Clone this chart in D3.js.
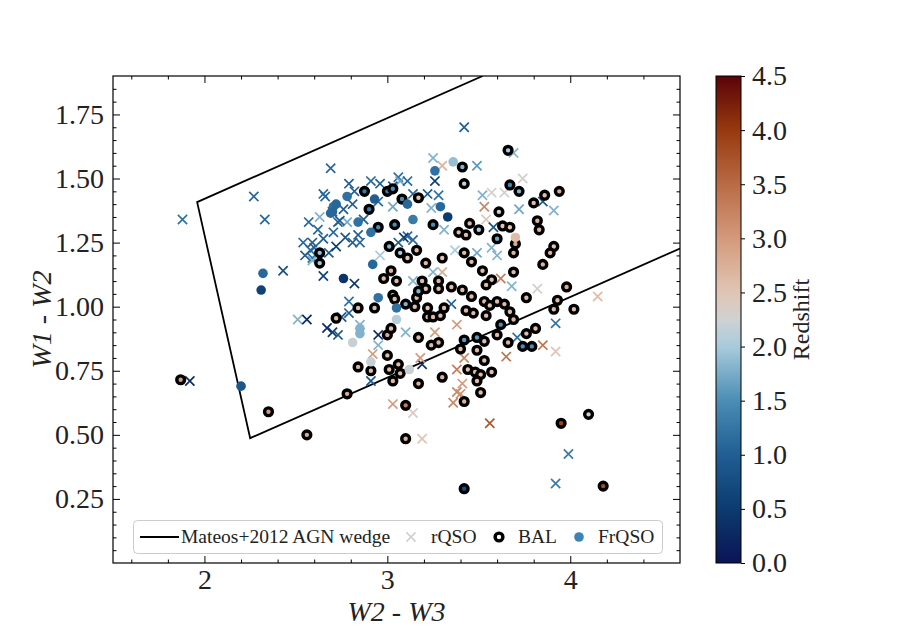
<!DOCTYPE html>
<html><head><meta charset="utf-8">
<script src="https://cdn.jsdelivr.net/npm/d3@7"></script>
<style>
body{margin:0;background:#fff}
text{font-family:"Liberation Serif","DejaVu Serif",serif;fill:#222}
</style>
</head><body>
<svg id="c" width="914" height="633"></svg>
<script>
// ---- data: [W2-W3, W1-W2, redshift] ----
const rqso = [
[1.88,1.34,1.2],[2.27,1.43,1.1],[2.33,1.34,1.1],[2.43,1.14,0.8],[1.92,0.71,0.3],[2.51,0.95,1.8],[2.56,0.95,0.3],
[2.66,1.43,1.1],[2.63,1.35,1.8],[2.57,1.33,1.1],[2.73,1.33,1.0],[2.78,1.33,1.7],[2.76,1.38,1.0],[2.54,1.25,1.1],
[2.59,1.25,1.0],[2.65,1.265,1.0],[2.705,1.29,1.1],[2.77,1.27,0.9],[2.58,1.22,1.1],[2.59,1.19,1.2],[2.65,1.12,0.6],
[2.69,1.54,1.1],[3.25,1.58,1.8],[3.30,1.55,2.7],[3.26,1.49,0.5],[2.79,1.48,1.0],[2.91,1.49,1.1],[2.96,1.48,1.0],
[3.06,1.505,1.2],[3.07,1.49,1.7],[3.11,1.49,1.1],[3.03,1.47,1.0],[2.65,1.44,1.1],[2.82,1.45,1.0],[2.95,1.41,1.1],
[2.81,1.40,1.0],[3.03,1.39,1.7],[3.14,1.44,1.1],[3.22,1.44,1.0],[3.28,1.435,1.2],[3.24,1.385,1.8],[2.70,1.37,1.0],
[2.74,1.335,1.0],[2.87,1.34,1.0],[2.84,1.28,1.0],[3.11,1.275,1.1],[3.09,1.27,0.5],[3.31,1.30,1.8],[2.60,1.23,1.1],
[2.81,1.25,1.0],[2.85,1.25,1.1],[3.06,1.25,1.0],[3.14,1.26,1.1],[2.96,1.20,2.0],[3.42,1.70,1.0],[3.69,1.60,1.8],
[3.49,1.55,1.6],[3.74,1.50,2.3],[3.85,1.41,0.9],[3.91,1.375,1.8],[3.52,1.435,1.8],[3.57,1.445,2.3],[3.64,1.445,2.3],
[3.53,1.39,3.2],[3.72,1.38,1.7],[3.54,1.34,2.4],[3.58,1.31,0.9],[3.57,1.23,1.8],[2.59,1.18,1.8],[2.82,1.09,0.4],
[3.25,1.135,1.8],[3.30,1.135,2.8],[3.14,1.10,1.8],[2.75,0.96,0.9],[2.79,1.02,1.2],[2.79,0.975,1.0],[2.67,0.917,0.3],
[2.70,0.90,0.5],[2.73,0.89,0.9],[2.85,0.93,1.8],[2.95,0.89,0.3],[2.95,0.85,1.8],[3.10,0.90,1.8],[3.26,0.90,3.0],
[2.92,0.815,3.0],[3.19,0.775,0.3],[3.18,0.80,3.0],[2.91,0.71,0.9],[3.62,1.11,3.3],[3.68,1.08,1.8],[3.82,1.07,2.3],
[4.15,1.04,2.6],[3.38,0.93,3.0],[3.92,0.935,1.2],[3.71,0.88,1.2],[3.85,0.85,3.4],[3.92,0.825,2.5],[3.42,0.80,3.2],
[3.65,0.805,3.4],[3.38,0.755,3.3],[3.41,0.70,3.0],[3.38,0.667,3.2],[3.03,0.62,3.0],[3.14,0.585,2.4],[3.19,0.485,2.5],
[3.40,0.66,3.1],[3.36,0.625,3.2],[3.56,0.545,3.7],[3.99,0.425,1.3],[3.92,0.31,1.3],[2.62,1.30,1.1],[2.68,1.21,0.9],
[2.72,1.235,0.6],[2.55,1.20,1.0],[3.49,1.21,1.7],[3.60,1.20,1.8],[3.37,1.22,2.0],[3.35,1.01,1.0]
];
const bal = [
[1.87,0.715,3.0],[2.35,0.59,3.0],[2.56,0.50,2.8],[2.78,0.66,2.8],[2.63,1.21,1.9],[2.63,1.17,2.0],[2.875,1.45,1.3],
[3.00,1.45,1.3],[3.03,1.46,1.5],[3.08,1.42,1.5],[3.17,1.425,2.5],[2.90,1.38,1.3],[2.95,1.31,1.5],[3.04,1.32,1.5],
[3.25,1.32,1.5],[3.01,1.235,1.8],[3.07,1.21,2.0],[3.11,1.19,2.5],[3.16,1.22,2.6],[3.30,1.19,2.5],[3.66,1.61,2.0],
[3.41,1.545,1.8],[3.42,1.48,2.2],[3.67,1.475,1.4],[3.72,1.45,1.8],[3.94,1.45,2.8],[3.86,1.435,2.6],[3.80,1.405,2.6],
[3.61,1.37,2.3],[3.82,1.335,2.7],[3.83,1.30,2.7],[3.45,1.325,2.6],[3.39,1.29,2.6],[3.50,1.30,2.0],[3.63,1.315,2.5],
[3.67,1.31,2.5],[3.60,1.265,1.7],[3.70,1.245,2.8],[3.43,1.28,2.6],[3.42,1.21,2.6],[3.69,1.21,2.7],[3.91,1.235,2.5],
[3.89,1.21,2.7],[3.02,1.14,2.7],[2.98,1.11,2.6],[3.05,1.10,2.6],[3.21,1.17,2.6],[3.19,1.10,2.6],[3.28,1.10,2.7],
[3.21,1.07,2.6],[3.28,1.07,2.6],[3.03,1.045,2.5],[3.04,1.03,2.6],[3.10,1.01,1.8],[3.16,1.035,2.6],[3.22,0.995,2.5],
[3.15,1.00,2.6],[3.22,0.96,2.6],[3.25,0.96,2.6],[3.29,0.965,2.6],[2.93,0.995,2.6],[2.84,0.995,2.6],[2.72,0.955,2.6],
[3.00,0.89,2.8],[3.02,0.915,2.6],[3.17,0.88,2.6],[3.24,0.85,2.6],[3.28,0.86,2.7],[3.00,0.81,2.6],[2.84,0.765,2.7],
[2.91,0.75,2.6],[3.01,0.755,2.6],[3.06,0.775,2.6],[3.07,0.74,2.6],[3.17,0.70,2.7],[3.30,0.725,2.7],[3.03,0.71,2.6],
[3.46,1.175,2.6],[3.52,1.14,2.6],[3.69,1.135,2.6],[3.85,1.165,2.7],[3.57,1.105,2.6],[3.54,1.085,2.6],[3.98,1.077,2.8],
[3.76,1.035,2.6],[3.93,1.025,2.6],[3.91,0.99,2.6],[4.02,0.99,2.6],[3.41,1.065,2.6],[3.46,1.04,2.6],[3.53,1.02,2.6],
[3.56,1.005,2.5],[3.60,1.02,2.6],[3.64,1.01,2.6],[3.67,0.98,2.6],[3.54,0.965,2.6],[3.69,0.95,2.7],[3.47,0.975,2.6],
[3.62,0.93,1.5],[3.60,0.89,2.6],[3.76,0.895,2.6],[3.81,0.915,2.6],[3.66,0.86,2.7],[3.74,0.845,1.5],[3.79,0.845,1.5],
[3.42,0.87,1.6],[3.49,0.88,1.6],[3.53,0.865,2.6],[3.40,0.835,2.6],[3.49,0.83,2.6],[3.53,0.79,2.6],[3.44,0.755,2.6],
[3.48,0.745,2.6],[3.51,0.735,2.6],[3.49,0.71,2.6],[3.57,0.745,2.6],[3.51,0.665,2.6],[3.10,0.615,3.3],[3.10,0.485,2.7],
[3.42,0.63,2.7],[3.95,0.545,3.9],[4.10,0.58,2.2],[3.42,0.29,0.8],[4.18,0.30,3.8],[3.17,1.06,1.8],[3.31,0.995,2.6],
[3.43,0.985,2.6],[3.35,1.077,2.6]
];
const frqso = [
[2.32,1.13,1.1],[2.31,1.065,0.6],[2.20,0.69,0.9],[2.705,1.39,1.2],[2.70,1.37,1.1],[3.36,1.565,1.9],[3.26,1.53,1.2],
[2.78,1.43,1.2],[2.93,1.42,1.0],[2.72,1.40,1.1],[2.69,1.365,1.1],[3.11,1.40,1.1],[3.29,1.39,1.1],[3.33,1.35,0.5],
[2.84,1.33,1.2],[3.14,1.34,1.3],[2.91,1.29,1.2],[2.76,1.11,0.4],[2.92,1.165,1.1],[2.95,1.035,1.2],[3.05,0.995,1.2],
[3.05,0.95,2.1],[2.85,0.895,1.8],[2.85,0.915,1.8],[2.81,0.86,2.2],[2.91,0.785,2.2],[3.12,0.755,2.2],[3.70,1.27,2.6]
];
// Mateos+2012 wedge vertices (data units)
const wedgeX = [3.521, 1.960, 2.250, 4.60];
const wedgeY = [1.900, 1.408, 0.487, 1.227];
// ticks
const xTicks = [2,3,4];
const yTicks = [0.25,0.50,0.75,1.00,1.25,1.50,1.75];
const cbTicks = [0,0.5,1,1.5,2,2.5,3,3.5,4,4.5];
// colormap stops (redshift -> colour)
const zStops  = [0, 0.5, 1.0, 1.5, 2.0, 2.25, 2.5, 3.0, 3.5, 4.0, 4.5];
const zColors = ["#0b1456","#0c3b70","#205e93","#4a8db5","#a9cbdc","#cfd2d2","#e1c5b4","#d39a7c","#b96b45","#97390f","#5a0308"];

const svg = d3.select("#c");
const L=113, R=680, T=76, B=563;
const x = d3.scaleLinear().domain([1.5,4.6]).range([L,R]);
const y = d3.scaleLinear().domain([0,1.9]).range([B,T]);
const color = d3.scaleLinear().domain(zStops).range(zColors).clamp(true);

svg.append("rect").attr("width",914).attr("height",633).attr("fill","#fff");
svg.append("clipPath").attr("id","clip").append("rect")
  .attr("x",L).attr("y",T).attr("width",R-L).attr("height",B-T);

const plot = svg.append("g").attr("clip-path","url(#clip)");

// wedge
const wedge = wedgeX.map((v,i)=>[v,wedgeY[i]]);
plot.append("path").datum(wedge)
  .attr("d", d3.line().x(d=>x(d[0])).y(d=>y(d[1])))
  .attr("fill","none").attr("stroke","#000").attr("stroke-width",1.8);

// rQSO crosses
const s=4.6;
plot.append("g").selectAll("path").data(rqso).join("path")
  .attr("transform",d=>`translate(${x(d[0])},${y(d[1])})`)
  .attr("d",`M${-s},${-s}L${s},${s}M${-s},${s}L${s},${-s}`)
  .attr("stroke",d=>color(d[2])).attr("stroke-width",1.7).attr("fill","none");
// BAL
plot.append("g").selectAll("circle").data(bal).join("circle")
  .attr("cx",d=>x(d[0])).attr("cy",d=>y(d[1])).attr("r",3.9)
  .attr("fill",d=>color(d[2])).attr("stroke","#000").attr("stroke-width",3.4);
// FrQSO
plot.append("g").selectAll("circle").data(frqso).join("circle")
  .attr("cx",d=>x(d[0])).attr("cy",d=>y(d[1])).attr("r",4.8)
  .attr("fill",d=>color(d[2]));

// axes
const fs = 28;
function styleAxis(g){
  g.select(".domain").remove();
  g.selectAll("line").attr("stroke","#000").attr("stroke-width",1);
  g.selectAll("text").style("font-size",fs+"px").style("font-family",'"Liberation Serif",serif').attr("fill","#222");
}
const xMinor = d3.range(1.6,4.6,0.2).filter(v=>Math.abs(v-Math.round(v))>1e-6);
const yMinor = d3.range(0.05,1.9,0.05).filter(v=>Math.abs(v/0.25-Math.round(v/0.25))>1e-6);

svg.append("g").attr("transform",`translate(0,${B})`)
  .call(d3.axisBottom(x).tickValues(xTicks).tickSize(-7).tickPadding(6).tickFormat(d3.format("d"))).call(styleAxis);
svg.append("g").attr("transform",`translate(0,${B})`)
  .call(d3.axisBottom(x).tickValues(xMinor).tickSize(-3.5).tickFormat("")).call(styleAxis);
svg.append("g").attr("transform",`translate(0,${T})`)
  .call(d3.axisTop(x).tickValues(xTicks).tickSize(-7).tickFormat("")).call(styleAxis);
svg.append("g").attr("transform",`translate(0,${T})`)
  .call(d3.axisTop(x).tickValues(xMinor).tickSize(-3.5).tickFormat("")).call(styleAxis);
svg.append("g").attr("transform",`translate(${L},0)`)
  .call(d3.axisLeft(y).tickValues(yTicks).tickSize(-7).tickPadding(9).tickFormat(d3.format(".2f"))).call(styleAxis);
svg.append("g").attr("transform",`translate(${L},0)`)
  .call(d3.axisLeft(y).tickValues(yMinor).tickSize(-3.5).tickFormat("")).call(styleAxis);
svg.append("g").attr("transform",`translate(${R},0)`)
  .call(d3.axisRight(y).tickValues(yTicks).tickSize(-7).tickFormat("")).call(styleAxis);
svg.append("g").attr("transform",`translate(${R},0)`)
  .call(d3.axisRight(y).tickValues(yMinor).tickSize(-3.5).tickFormat("")).call(styleAxis);

svg.append("rect").attr("x",L).attr("y",T).attr("width",R-L).attr("height",B-T)
  .attr("fill","none").attr("stroke","#000").attr("stroke-width",1.2);

// axis labels
function mathLabel(t, parts){
  parts.forEach(p=>t.append("tspan").text(p[0]).style("font-style",p[1]?"italic":"normal"));
}
const xl = svg.append("text").attr("x",(L+R)/2).attr("y",621).attr("text-anchor","middle")
  .style("font-size","28px");
mathLabel(xl,[["W2",1],[" - ",0],["W3",1]]);
const yl = svg.append("text").attr("transform",`translate(51,${(T+B)/2}) rotate(-90)`).attr("text-anchor","middle")
  .style("font-size","28px");
mathLabel(yl,[["W1",1],[" - ",0],["W2",1]]);

// legend
const lg = svg.append("g");
lg.append("rect").attr("x",133.5).attr("y",520.5).attr("width",529).attr("height",33).attr("rx",4)
  .attr("fill","#fff").attr("fill-opacity",0.8).attr("stroke","#cccccc").attr("stroke-width",1);
const ly = 537, lfs = 19.5;
lg.append("line").attr("x1",140).attr("x2",179).attr("y1",ly).attr("y2",ly).attr("stroke","#000").attr("stroke-width",1.8);
lg.append("text").attr("x",181).attr("y",ly).attr("dy","0.33em").style("font-size",lfs+"px").text("Mateos+2012 AGN wedge");
lg.append("path").attr("transform",`translate(411,${ly})`).attr("d",`M${-s},${-s}L${s},${s}M${-s},${s}L${s},${-s}`)
  .attr("stroke",color(2.25)).attr("stroke-width",1.7);
lg.append("text").attr("x",431).attr("y",ly).attr("dy","0.33em").style("font-size",lfs+"px").text("rQSO");
lg.append("circle").attr("cx",499).attr("cy",ly).attr("r",3.9).attr("fill","#fff").attr("stroke","#000").attr("stroke-width",3.4);
lg.append("text").attr("x",518).attr("y",ly).attr("dy","0.33em").style("font-size",lfs+"px").text("BAL");
lg.append("circle").attr("cx",579).attr("cy",ly).attr("r",4.8).attr("fill","#3b84b5");
lg.append("text").attr("x",598).attr("y",ly).attr("dy","0.33em").style("font-size",lfs+"px").text("FrQSO");

// colorbar
const cbL=716, cbR=741;
const cbY = d3.scaleLinear().domain([0,4.5]).range([B,T]);
const grad = svg.append("defs").append("linearGradient").attr("id","cbg")
  .attr("x1",0).attr("x2",0).attr("y1",1).attr("y2",0);
d3.range(0,1.0001,0.02).forEach(t=>grad.append("stop").attr("offset",t).attr("stop-color",color(t*4.5)));
svg.append("rect").attr("x",cbL).attr("y",T).attr("width",cbR-cbL).attr("height",B-T)
  .attr("fill","url(#cbg)").attr("stroke","#000").attr("stroke-width",1);
svg.append("g").attr("transform",`translate(${cbR},0)`)
  .call(d3.axisRight(cbY).tickValues(cbTicks).tickSize(4).tickPadding(7).tickFormat(d3.format(".1f"))).call(styleAxis);
svg.append("text").attr("transform",`translate(809,${(T+B)/2}) rotate(-90)`).attr("text-anchor","middle")
  .style("font-size","24px").text("Redshift");
</script>
</body></html>
